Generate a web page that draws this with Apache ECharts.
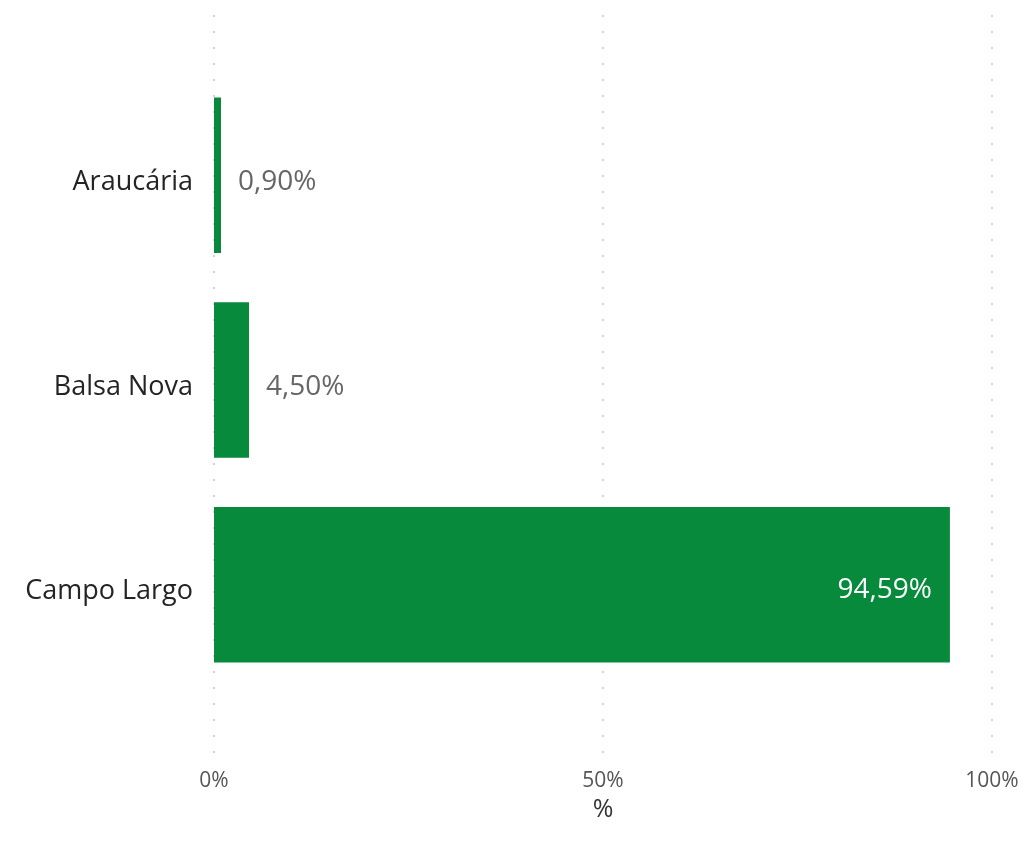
<!DOCTYPE html>
<html>
<head>
<meta charset="utf-8">
<script src="https://cdn.jsdelivr.net/npm/echarts@6/dist/echarts.min.js"></script>
<style>
html,body{margin:0;padding:0;background:#fff;}
#chart{width:1026px;height:843px;}
</style>
</head>
<body>
<div id="chart"></div>
<script>
const categories = ['Araucária', 'Balsa Nova', 'Campo Largo'];
const values = [0.90, 4.50, 94.59];
const xTicks = [0, 50, 100];
const axisName = '%';

const FONT = '"Open Sans", "Noto Sans", sans-serif';
const GREEN = '#088A3D';
const fmt = v => v.toFixed(2).replace('.', ',') + '%';

const chart = echarts.init(document.getElementById('chart'));
chart.setOption({
  backgroundColor: '#fff',
  animation: false,
  grid: [
    { left: 214, right: 34, top: 15, bottom: 90 },
    { left: 214, right: 34, top: 73, bottom: 156 }
  ],
  xAxis: [
    {
      gridIndex: 0, type: 'value', min: xTicks[0], max: xTicks[xTicks.length - 1], interval: 50,
      axisLine: { show: false }, axisTick: { show: false },
      splitLine: { show: true, lineStyle: { color: '#d4d4d4', type: [2, 14], width: 2 } },
      axisLabel: { margin: 18, color: '#555', fontSize: 21, fontFamily: FONT, formatter: v => v + '%' },
      name: axisName, nameLocation: 'middle', nameGap: 44,
      nameTextStyle: { color: '#333', fontSize: 25, fontFamily: FONT }
    },
    {
      gridIndex: 1, type: 'value', min: 0, max: 100, show: false
    }
  ],
  yAxis: [
    { gridIndex: 0, type: 'value', show: false },
    {
      gridIndex: 1, type: 'category', data: categories, inverse: true,
      axisLine: { show: false }, axisTick: { show: false },
      axisLabel: {
        margin: 21, color: '#252423', fontSize: 27, fontFamily: FONT,
        formatter: v => '{c|' + v + '}',
        rich: { c: { color: '#252423', fontSize: 27, fontFamily: FONT, padding: [14, 0, 0, 0] } }
      }
    }
  ],
  series: [{
    type: 'bar',
    xAxisIndex: 1, yAxisIndex: 1,
    data: values.map((v, i) => ({
      value: v,
      label: i === 2
        ? { show: true, position: 'insideRight', distance: 18, offset: [0, 5], color: '#fff', fontSize: 28, fontFamily: FONT, formatter: p => fmt(p.value) }
        : { show: true, position: 'right', distance: 17, offset: [0, 7], color: '#666', fontSize: 28, fontFamily: FONT, formatter: p => fmt(p.value) }
    })),
    barCategoryGap: '24%',
    itemStyle: { color: GREEN }
  }]
});
</script>
</body>
</html>
